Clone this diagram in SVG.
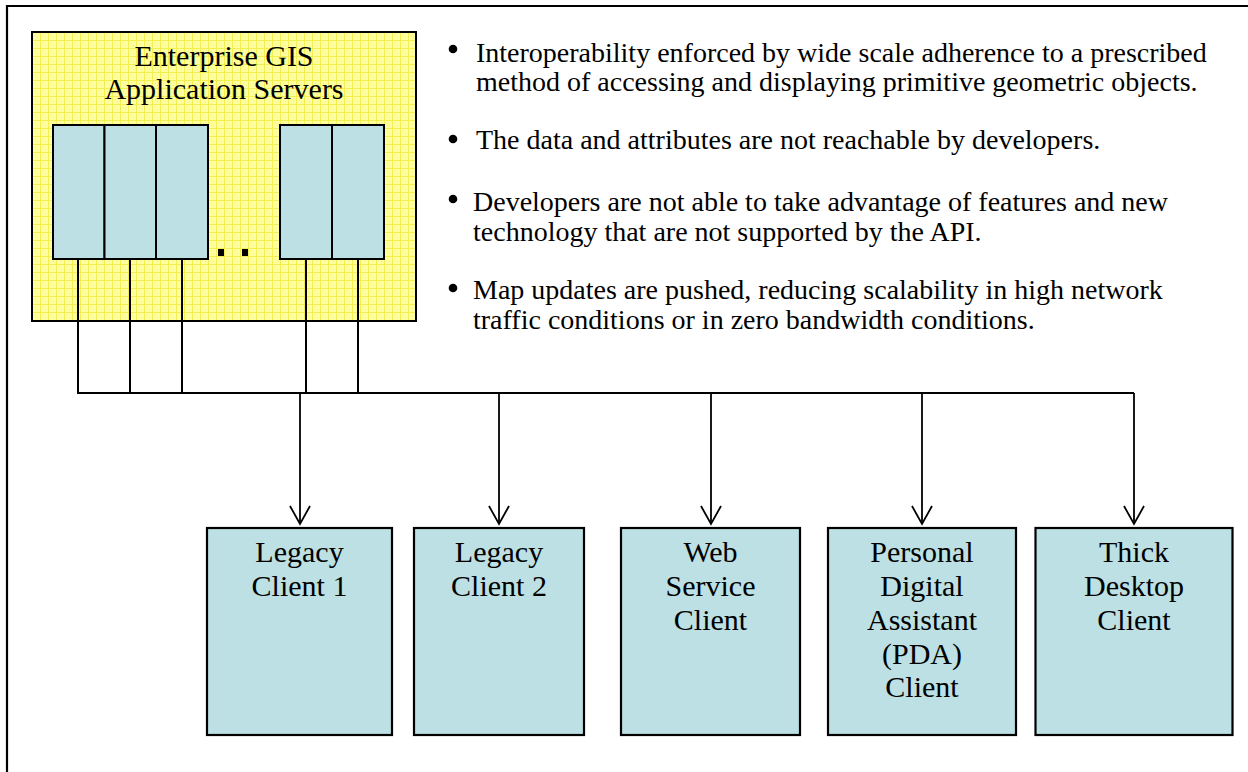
<svg xmlns="http://www.w3.org/2000/svg" width="1248" height="772" viewBox="0 0 1248 772">
<style>
.t{font-family:"Liberation Serif","Times New Roman",serif;fill:#000}
.title{font-size:30px;text-anchor:middle}
.lbl{font-size:30px;text-anchor:middle}
.bul{font-size:28px}
.panel{fill:#BCE0E3;stroke:#000;stroke-width:2}
.client{fill:#BCE0E3;stroke:#000;stroke-width:2.2}
.wire{fill:none;stroke:#000;stroke-width:2}
.arr{fill:none;stroke:#000;stroke-width:1.8}
</style>
<defs>
<pattern id="ygrid" x="0" y="0" width="8" height="8" patternUnits="userSpaceOnUse">
<rect width="8" height="8" fill="#FFFFA0"/>
<path d="M0 0.5H8M0.5 0V8" stroke="#F4EF50" stroke-width="1"/>
<rect x="3" y="3" width="1" height="1" fill="#F7F36A"/>
<rect x="5" y="5" width="1" height="1" fill="#F7F36A"/>
</pattern>
<marker id="vhead" markerWidth="24" markerHeight="24" refX="19" refY="11" orient="auto" markerUnits="userSpaceOnUse">
<path d="M1 1L19 11L1 21" fill="none" stroke="#000" stroke-width="1.8"/>
</marker>
</defs>
<rect width="1248" height="772" fill="#fff"/>
<g id="frame">
<path d="M7 780V6H1260" fill="none" stroke="#000" stroke-width="2.2"/>
</g>
<g id="servers">
<rect x="32" y="32" width="384" height="289" fill="url(#ygrid)" stroke="#000" stroke-width="2"/>
<text class="t title" x="224" y="66">Enterprise GIS</text>
<text class="t title" x="224" y="99">Application Servers</text>
<rect class="panel" x="53" y="125" width="51.5" height="134"/>
<rect class="panel" x="104.5" y="125" width="51.5" height="134"/>
<rect class="panel" x="156" y="125" width="52" height="134"/>
<rect class="panel" x="280" y="125" width="52" height="134"/>
<rect class="panel" x="332" y="125" width="52" height="134"/>
<rect x="218" y="249" width="6" height="7" fill="#000"/>
<rect x="242" y="249" width="6" height="7" fill="#000"/>
</g>
<g id="bullets">
<circle cx="453" cy="49" r="4.3" fill="#000"/>
<text class="t bul" x="476" y="62">Interoperability enforced by wide scale adherence to a prescribed</text>
<text class="t bul" x="476" y="91">method of accessing and displaying primitive geometric objects.</text>
<circle cx="453" cy="139" r="4.3" fill="#000"/>
<text class="t bul" x="476" y="149">The data and attributes are not reachable by developers.</text>
<circle cx="453" cy="199" r="4.3" fill="#000"/>
<text class="t bul" x="473" y="211">Developers are not able to take advantage of features and new</text>
<text class="t bul" x="473" y="241">technology that are not supported by the API.</text>
<circle cx="453" cy="288" r="4.3" fill="#000"/>
<text class="t bul" x="473" y="299">Map updates are pushed, reducing scalability in high network</text>
<text class="t bul" x="473" y="329">traffic conditions or in zero bandwidth conditions.</text>
</g>
<g id="connectors">
<path class="wire" d="M78 259V393H1134"/>
<path class="wire" d="M130 259V393M182 259V393M306 259V393M358 259V393"/>
<path class="arr" d="M300 393V524" marker-end="url(#vhead)"/>
<path class="arr" d="M499 393V524" marker-end="url(#vhead)"/>
<path class="arr" d="M711 393V524" marker-end="url(#vhead)"/>
<path class="arr" d="M922 393V524" marker-end="url(#vhead)"/>
<path class="arr" d="M1134 393V524" marker-end="url(#vhead)"/>
</g>
<g id="legacy1">
<rect class="client" x="207" y="528" width="185" height="207"/>
<text class="t lbl" x="299.5" y="562">Legacy</text>
<text class="t lbl" x="299.5" y="596">Client 1</text>
</g>
<g id="legacy2">
<rect class="client" x="414" y="528" width="170" height="207"/>
<text class="t lbl" x="499" y="562">Legacy</text>
<text class="t lbl" x="499" y="596">Client 2</text>
</g>
<g id="web">
<rect class="client" x="621" y="528" width="179" height="207"/>
<text class="t lbl" x="710.5" y="562">Web</text>
<text class="t lbl" x="710.5" y="596">Service</text>
<text class="t lbl" x="710.5" y="630">Client</text>
</g>
<g id="pda">
<rect class="client" x="828" y="528" width="188" height="207"/>
<text class="t lbl" x="922" y="562">Personal</text>
<text class="t lbl" x="922" y="596">Digital</text>
<text class="t lbl" x="922" y="630">Assistant</text>
<text class="t lbl" x="922" y="664">(PDA)</text>
<text class="t lbl" x="922" y="697">Client</text>
</g>
<g id="thick">
<rect class="client" x="1035.5" y="528" width="197" height="207"/>
<text class="t lbl" x="1134" y="562">Thick</text>
<text class="t lbl" x="1134" y="596">Desktop</text>
<text class="t lbl" x="1134" y="630">Client</text>
</g>
</svg>
